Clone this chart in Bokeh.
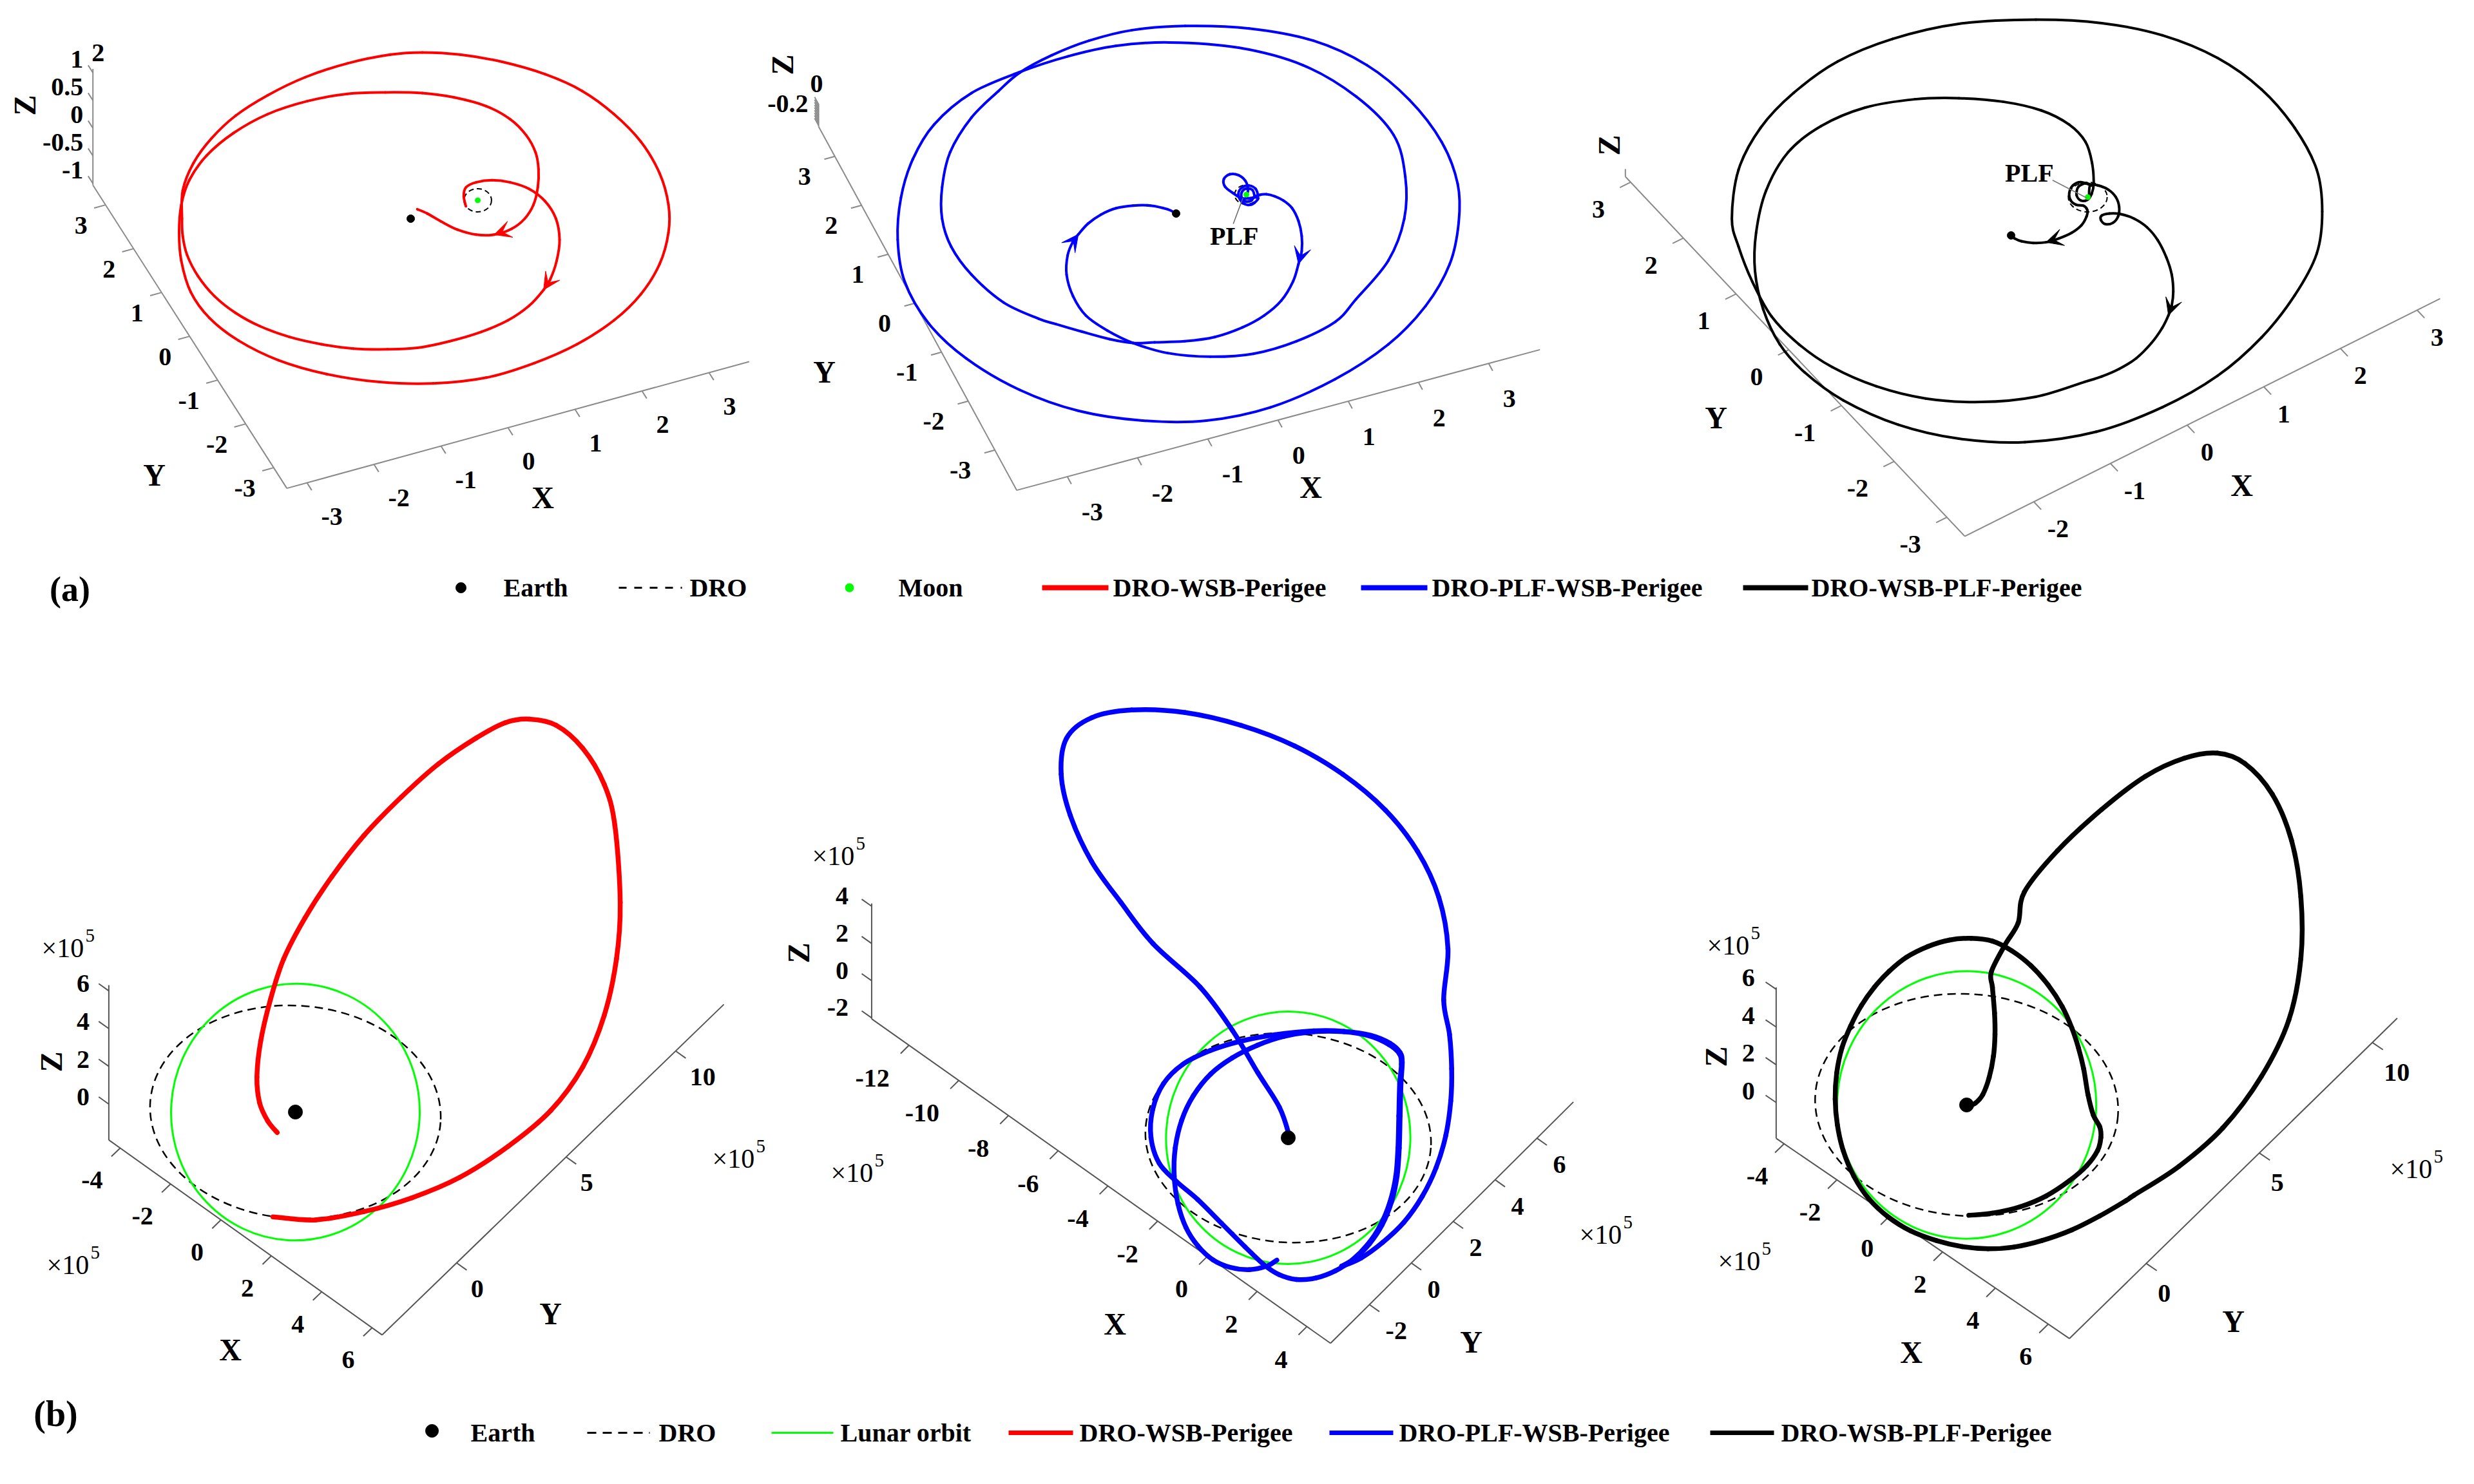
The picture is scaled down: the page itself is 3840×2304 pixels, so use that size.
import numpy as np
from bokeh.plotting import figure
from bokeh.models import Range1d, Arrow, VeeHead
from bokeh.core.properties import value
from bokeh.embed import file_html
from bokeh.resources import INLINE

FONT = "Liberation Serif"

# ======================= DATA =======================
# (a) Earth-Moon rotating frame (nondimensional units); trajectories as projected
#     view-plane coordinates (u right, v up), Earth at origin.
a1_u = [0.76,0.73,0.76,0.90,1.12,1.37,1.63,1.85,2.00,2.05,2.01,1.92,1.83,1.63,1.34,0.97,0.53,0.09,-0.32,-0.79,
        -1.23,-1.67,-2.08,-2.41,-2.70,-2.93,-3.08,-3.14,-3.15,-3.14,-2.99,-2.74,-2.41,-1.97,-1.45,-0.87,-0.28,0.16,0.68,1.26,
        1.85,2.36,2.80,3.17,3.43,3.55,3.55,3.43,3.17,2.80,2.29,1.70,1.04,0.31,-0.43,-1.16,-1.82,-2.37,-2.77,-3.03,
        -3.16,-3.19,-3.16,-3.05,-2.81,-2.44,-1.97,-1.42,-0.87,-0.35,0.16,0.60,1.04,1.37,1.59,1.72,1.76,1.75,1.69,1.57,
        1.39,1.15,0.90,0.64,0.42,0.23,0.09]
a1_v = [0.17,0.31,0.43,0.50,0.53,0.50,0.41,0.24,0.00,-0.29,-0.58,-0.84,-0.98,-1.20,-1.40,-1.56,-1.69,-1.78,-1.80,-1.79,
        -1.73,-1.63,-1.48,-1.30,-1.07,-0.79,-0.50,-0.24,0.00,0.39,0.77,1.11,1.42,1.70,1.95,2.14,2.26,2.29,2.26,2.16,
        1.99,1.76,1.44,1.06,0.62,0.19,-0.19,-0.62,-1.04,-1.40,-1.73,-1.99,-2.19,-2.27,-2.25,-2.14,-1.95,-1.68,-1.37,-1.01,
        -0.58,-0.19,0.19,0.53,0.87,1.18,1.44,1.62,1.72,1.74,1.73,1.67,1.55,1.37,1.15,0.91,0.68,0.43,0.19,0.00,
        -0.14,-0.22,-0.22,-0.15,-0.04,0.07,0.13]
a1_arrows = [12, 81]

a2_plf_u = [1.043,1.015,0.943,0.880,0.872,0.921,1.001,1.043,1.086,1.058,0.972,0.872,0.829,0.872,0.958,1.043,1.086,
            0.886,0.758,0.652,0.635,0.715,0.829,0.921,0.958,0.943,1.001]
a2_plf_v = [0.243,0.314,0.334,0.294,0.214,0.163,0.172,0.229,0.243,0.329,0.372,0.343,0.257,0.157,0.114,0.143,0.214,
            0.200,0.272,0.357,0.457,0.523,0.512,0.437,0.329,0.214,0.200]
a2_dep_u = [1.115,1.201,1.315,1.429,1.544,1.629,1.672,1.672,1.629,1.558,1.401,1.172,0.886,0.515,0.114,-0.286,-0.572,
            -0.886,-1.258,-1.601,-1.830]
a2_dep_v = [0.249,0.257,0.229,0.172,0.071,-0.100,-0.300,-0.500,-0.672,-0.901,-1.158,-1.358,-1.515,-1.644,-1.701,-1.715,
            -1.724,-1.672,-1.572,-1.472,-1.401]
a2_wsb_u = [-2.297,-2.724,-2.994,-3.115,-3.115,-3.009,-2.724,-2.368,-2.084,-1.657,-1.159,-0.590,0.121,0.974,1.828,2.539,
            3.108,3.535,3.748,3.762,3.642,3.321,2.824,2.112,1.259,0.405,-0.448,-1.302,-2.084,-2.795,-3.293,-3.613,
            -3.706,-3.663,-3.506,-3.222,-2.724,-2.084,-1.444,-0.804,-0.092,0.832,1.686,2.397,2.895,3.051,3.037,2.824,
            2.397,2.119]
a2_wsb_v = [-1.185,-0.814,-0.442,-0.070,0.349,0.814,1.278,1.627,1.874,2.106,2.301,2.441,2.497,2.464,2.301,1.976,
            1.511,0.953,0.395,-0.116,-0.674,-1.232,-1.743,-2.208,-2.580,-2.757,-2.757,-2.627,-2.348,-1.929,-1.464,-0.907,
            -0.349,0.209,0.721,1.185,1.604,1.883,2.092,2.232,2.278,2.208,1.976,1.557,1.046,0.488,-0.070,-0.628,
            -1.139,-1.441]
a2_arr_u = [1.601,1.029,0.457,-0.114,-0.572,-0.915,-1.201,-1.372,-1.458,-1.444,-1.372,-1.301,-1.172,-1.001,-0.800,
            -0.572,-0.343,-0.114,0.0]
a2_arr_v = [-1.701,-1.867,-1.907,-1.858,-1.724,-1.558,-1.358,-1.101,-0.815,-0.557,-0.372,-0.277,-0.134,-0.014,0.071,
            0.106,0.106,0.057,0.0]

a3_dep_u = [0.843,0.854,0.935,1.052,1.133,1.168,1.156,1.098,1.017,0.970,0.982,1.063,1.179,1.330,1.469,1.585,1.678,
            1.736,1.753,1.736,1.701,1.632,1.516,1.353,1.168,0.982,0.796]
a3_dep_v = [0.409,0.541,0.541,0.494,0.413,0.309,0.204,0.135,0.123,0.169,0.216,0.237,0.232,0.181,0.088,-0.051,-0.237,
            -0.422,-0.608,-0.759,-0.864,-1.003,-1.165,-1.328,-1.444,-1.525,-1.583]
a3_wsb_u = [0.268,-0.327,-0.923,-1.458,-1.935,-2.292,-2.589,-2.798,-2.946,-3.018,-2.946,-2.708,-2.351,-1.875,-1.280,
            -0.565,0.268,0.982,1.637,2.232,2.708,3.065,3.304,3.363,3.304,3.065,2.708,2.232,1.637,0.923,0.149,-0.565,
            -1.220,-1.815,-2.232,-2.500,-2.679,-2.768,-2.756,-2.649,-2.411,-2.054,-1.577,-1.042,-0.565,-0.089,0.327,
            0.625,0.804,0.875,0.893]
a3_wsb_v = [-1.744,-1.801,-1.763,-1.631,-1.423,-1.178,-0.876,-0.498,-0.121,0.181,0.710,1.163,1.540,1.880,2.125,2.288,
            2.333,2.295,2.163,1.918,1.578,1.163,0.710,0.257,-0.196,-0.649,-1.102,-1.518,-1.857,-2.122,-2.235,-2.197,
            -2.046,-1.782,-1.480,-1.178,-0.800,-0.385,0.030,0.483,0.898,1.182,1.382,1.472,1.484,1.446,1.351,1.200,
            1.012,0.785,0.559]
a3_arr_u = [0.870,0.824,0.754,0.708,0.727,0.808,0.870,0.750,0.669,0.629,0.645,0.703,0.785,0.824,0.815,0.761,0.657,
            0.518,0.378,0.239,0.111,0.035,0.0]
a3_arr_v = [0.448,0.385,0.378,0.436,0.525,0.564,0.541,0.576,0.541,0.460,0.378,0.332,0.320,0.274,0.204,0.111,0.030,
            -0.032,-0.074,-0.081,-0.063,-0.032,0.0]

# DRO around the Moon (projected ellipse width/height, view units) in panels (a)
a1_dro = (0.38, 0.32)
a2_dro = (0.31, 0.26)
a3_dro = (0.42, 0.32)

# (b) Earth-centred frame, units of 1e5 km, projected view-plane coordinates, Earth at origin
b1_u = [-0.672,0.608,2.049,3.490,4.930,6.371,7.652,8.612,9.253,9.621,9.733,9.573,9.253,8.612,7.812,7.011,6.291,
        5.411,4.290,3.170,2.049,1.089,0.288,-0.352,-0.752,-1.040,-1.153,-1.073,-0.832,-0.544]
b1_v = [-3.140,-3.233,-2.986,-2.571,-1.955,-1.031,0.046,1.355,2.894,4.587,6.281,8.590,9.822,10.899,11.592,11.777,
        11.669,11.207,10.437,9.437,8.282,7.050,5.819,4.587,3.356,2.124,1.047,0.277,-0.262,-0.616]

b2_u = [-0.347,-0.661,-1.185,-1.775,-2.299,-2.757,-3.117,-3.360,-3.477,-3.445,-3.248,-2.888,-2.364,-1.709,-0.923,-0.138,
        0.779,1.696,2.482,3.071,3.386,3.451,
        3.399,3.373,3.346,3.281,3.104,2.809,2.417,1.958,1.434,0.845,0.255,
        -0.269,-0.727,-1.316,-2.037,-2.757,-3.412,-3.936,-4.185,
        -4.132,-3.805,-3.215,-2.364,-1.447,-0.399,
        0.779,1.696,2.515,3.104,3.412,3.477,
        3.438,3.412,3.386,3.320,3.150,2.862,2.482,2.024,1.631,
        2.220,2.875,3.530,4.086,4.512,4.807,4.957,4.984,4.918,4.741,
        4.871,4.594,3.942,2.965,1.662,0.195,-1.433,-3.144,-4.773,-5.995,-6.760,-6.923,-6.646,-5.995,-5.099,-4.121,
        -2.690,-1.709,-0.923,-0.268,0.026,0.0]
b2_v = [-3.733,-3.916,-4.021,-3.949,-3.720,-3.294,-2.737,-2.017,-1.166,-0.314,0.537,1.290,1.945,2.436,2.829,3.091,
        3.235,3.235,3.104,2.842,2.567,2.240,
        1.650,0.668,-0.314,-1.166,-1.952,-2.672,-3.261,-3.720,-4.060,-4.276,-4.322,
        -4.178,-3.883,-3.327,-2.606,-1.886,-1.329,-0.773,0.013,
        0.864,1.650,2.240,2.665,2.947,3.143,
        3.261,3.248,3.124,2.882,2.600,2.305,
        1.650,0.668,-0.314,-1.166,-1.952,-2.659,-3.229,-3.687,-3.916,
        -3.667,-3.196,-2.574,-1.788,-0.904,0.079,1.126,2.109,3.157,4.204,
        5.764,7.330,8.740,9.994,11.090,11.952,12.578,12.970,13.048,12.813,12.186,11.090,9.837,8.427,7.174,5.920,
        4.600,3.287,1.978,0.930,0.079,0.0]

b3_u = [0.062,0.741,1.543,2.284,2.963,3.457,3.765,3.858,3.827,3.642,3.488,3.364,3.210,3.025,2.747,2.346,1.852,1.296,
        0.741,0.123,-0.494,-1.111,-1.728,-2.222,-2.654,-3.025,-3.333,-3.580,-3.735,-3.778,-3.716,-3.549,-3.241,-2.809,
        -2.253,-1.605,-0.864,-0.123,0.617,1.358,2.160,3.025,3.827,4.568,4.815,
        6.094,7.360,8.468,9.259,9.607,9.607,9.338,8.784,7.993,7.202,6.252,5.144,3.878,2.612,1.662,
        1.481,1.111,0.710,0.741,0.802,0.815,0.772,0.648,0.463,0.247,0.062,0.0]
b3_v = [-3.173,-3.111,-2.926,-2.617,-2.173,-1.741,-1.309,-0.938,-0.630,-0.290,0.296,1.037,1.654,2.210,2.827,3.444,
        4.000,4.432,4.710,4.790,4.741,4.556,4.247,3.846,3.383,2.858,2.272,1.654,0.914,0.173,-0.568,-1.309,-2.049,
        -2.698,-3.222,-3.623,-3.901,-4.074,-4.136,-4.086,-3.901,-3.593,-3.191,-2.759,-2.593,
        -1.772,-0.665,0.812,2.437,4.209,5.980,7.605,8.934,9.820,10.115,9.968,9.451,8.491,7.310,6.128,
        5.235,4.617,3.827,3.383,2.642,2.025,1.407,0.790,0.296,0.049,-0.012,0.0]

# Lunar orbit and DRO as projected ellipses (width, height, tilt) in 1e5 km
lunar_orbit = (7.45, 7.70, -0.06)
dro_orbit = (8.72, 6.38, -0.07)

# Axis ticks
a1_xt = [-3,-2,-1,0,1,2,3]; a1_yt = [-3,-2,-1,0,1,2,3]; a1_zt = [-1,-0.5,0,0.5,1]
a2_xt = [-3,-2,-1,0,1,2,3]; a2_yt = [-3,-2,-1,0,1,2,3]; a2_zt = [-0.35,-0.3,-0.25,-0.2,-0.15,-0.1,-0.05,0,0.05]
a3_xt = [-2,-1,0,1,2,3]; a3_yt = [-3,-2,-1,0,1,2,3]; a3_zt = []
b1_xt = [-4,-2,0,2,4,6]; b1_yt = [0,5,10]; b1_zt = [0,2,4,6]
b2_xt = [-12,-10,-8,-6,-4,-2,0,2,4]; b2_yt = [-2,0,2,4,6]; b2_zt = [-2,0,2,4]
b3_xt = [-4,-2,0,2,4,6]; b3_yt = [0,5,10]; b3_zt = [0,2,4,6]

legend_a = ["Earth", "DRO", "Moon", "DRO-WSB-Perigee", "DRO-PLF-WSB-Perigee", "DRO-WSB-PLF-Perigee"]
legend_b = ["Earth", "DRO", "Lunar orbit", "DRO-WSB-Perigee", "DRO-PLF-WSB-Perigee", "DRO-WSB-PLF-Perigee"]

# ======================= VIEW GEOMETRY (styling) =======================
TOP = dict(xax=(0, 0), yax=(0, 0), zax=(0, 1), xdir=(0, -1, 0), ydir=(-1, 0, 0), zdir=(0, 1, 0), acol="#8a8a8a")
BOT = dict(xax=(0, 0), yax=(1, 0), zax=(0, 0), xdir=(0, -1, 0), ydir=(1, 0, 0), zdir=(-1, 0, 0), acol="#555555")
PANELS = {
    "a1": dict(TOP, E=(645, 347), S=112.7, ex=(104, -28.5), ey=(-43.5, -68), ez=(0, -86), tl=0.17,
               lims=((-3.3, 3.6), (-3.47, 3.45), (-1.03, 1.07)),
               xlab=(22, 52, "left"), ylab=(-28, 32, "right"),
               titles=dict(X=(850, 780), Y=(247, 745), Z=(46, 171))),
    "a2": dict(TOP, E=(1833, 339), S=116.6, ex=(109, -29.3), ey=(-41.4, -76), ez=(0, -82), tl=0.15,
               lims=((-3.72, 3.73), (-3.82, 3.61), (-0.37, 0.06)),
               xlab=(22, 55, "left"), ylab=(-37, 31, "right"),
               titles=dict(X=(2042, 764), Y=(1287, 585), Z=(1222, 108))),
    "a3": dict(TOP, E=(3129, 373), S=143.6, ex=(119, -59.5), ey=(-81.8, -86.7), ez=(0, -99), tl=0.14,
               lims=((-2.9, 3.3), (-3.34, 3.1), (-0.05, 0.07)),
               xlab=(21, 42, "left"), ylab=(-40, 42, "right"),
               titles=dict(X=(3487, 761), Y=(2671, 656), Z=(2505, 233))),
    "b1": dict(BOT, E=(466, 1734), S=51.8, ex=(39.1, 27.9), ey=(34, -32.9), ez=(0, -29.3), tl=0.4,
               lims=((-4.45, 6.4), (-3.4, 12.2), (-1.9, 6.3)),
               xlab=(-27, 50, "right"), ylab=(22, 40, "left"),
               titles=dict(X=(365, 2103), Y=(862, 2047), Z=(87, 1656)),
               exps=[(116, 1473), (124, 1965), (1157, 1800)]),
    "b2": dict(BOT, E=(2007, 1774), S=50.9, ex=(38.6, 27.3), ey=(32.5, -32.3), ez=(0, -28.9), tl=0.4,
               lims=((-13.5, 4.95), (-3.86, 7.74), (-2.05, 4.15)),
               xlab=(-30, 51, "right"), ylab=(25, 41, "left"),
               titles=dict(X=(1738, 2063), Y=(2291, 2091), Z=(1247, 1487)),
               exps=[(1312, 1330), (1341, 1822), (2503, 1918)]),
    "b3": dict(BOT, E=(3060, 1723), S=54.0, ex=(41, 28), ey=(35.1, -34.3), ez=(0, -29.3), tl=0.4,
               lims=((-4.3, 6.8), (-3.4, 11.1), (-1.9, 6.1)),
               xlab=(-25, 50, "right"), ylab=(18, 46, "left"),
               titles=dict(X=(2974, 2107), Y=(3474, 2059), Z=(2671, 1648)),
               exps=[(2701, 1469), (2718, 1959), (3761, 1816)]),
}

# ======================= FIGURE =======================
p = figure(width=3824, height=2288, x_range=Range1d(8, 3832), y_range=Range1d(8, 2296),
           output_backend="svg", toolbar_location=None, x_axis_location=None, y_axis_location=None,
           min_border=0, background_fill_color="white", border_fill_color="white")
p.grid.visible = False
p.outline_line_color = None

xr, yr = {}, {}
for k, P in PANELS.items():
    Ex, Ey = P["E"]; S = P["S"]
    xr[k] = Range1d((8 - Ex) / S, (3832 - Ex) / S)
    yr[k] = Range1d(-(2296 - Ey) / S, (Ey - 8) / S)
p.extra_x_ranges = xr
p.extra_y_ranges = yr


def to_view(P, X, Y, Z):
    ex, ey, ez, S = P["ex"], P["ey"], P["ez"], P["S"]
    sx = X * ex[0] + Y * ey[0] + Z * ez[0]
    sy = X * ex[1] + Y * ey[1] + Z * ez[1]
    return sx / S, -sy / S


def fmt(t):
    return str(int(round(t))) if abs(t - round(t)) < 1e-9 else f"{t:g}"


def kw(k):
    return dict(x_range_name=k, y_range_name=k)


def ptext(k, xs, ys, texts, size, bold=True, align="center", angle=0.0, color="black"):
    p.text(xs, ys, text=texts, text_font=value(FONT), text_font_size=f"{size}px",
           text_font_style="bold" if bold else "normal", text_align=align, text_baseline="middle",
           angle=angle, text_color=color, **kw(k))


def scr(k, x, y):
    P = PANELS[k]
    return (x - P["E"][0]) / P["S"], -(y - P["E"][1]) / P["S"]


def smooth_path(k, u, v, color, width):
    """Draw a trajectory through its points with Bokeh's cubic Bezier glyph (Catmull-Rom tangents)."""
    u = np.asarray(u, float); v = np.asarray(v, float)
    n = len(u)
    up = np.r_[u[0], u, u[-1]]; vp = np.r_[v[0], v, v[-1]]
    i = np.arange(n - 1)
    x0, y0 = u[:-1], v[:-1]
    x1, y1 = u[1:], v[1:]
    cx0 = x0 + (up[i + 2] - up[i]) / 6.0
    cy0 = y0 + (vp[i + 2] - vp[i]) / 6.0
    cx1 = x1 - (up[i + 3] - up[i + 1]) / 6.0
    cy1 = y1 - (vp[i + 3] - vp[i + 1]) / 6.0
    p.bezier(x0=x0, y0=y0, x1=x1, y1=y1, cx0=cx0, cy0=cy0, cx1=cx1, cy1=cy1,
             line_color=color, line_width=width, line_cap="round", **kw(k))


def draw_axes(k, xt, yt, zt, zlabels):
    P = PANELS[k]; L = P["lims"]; S = P["S"]; tl = P["tl"]
    xs, ys = [], []

    def seg(a, b):
        ua, va = to_view(P, *a); ub, vb = to_view(P, *b)
        xs.append([ua, ub]); ys.append([va, vb])

    def put(points, texts, dx, dy, al):
        uu, vv = [], []
        for pt in points:
            u, v = to_view(P, *pt)
            uu.append(u + dx / S); vv.append(v - dy / S)
        ptext(k, uu, vv, texts, 40, True, al)

    Yf, Zf = L[1][P["xax"][0]], L[2][P["xax"][1]]
    seg((L[0][0], Yf, Zf), (L[0][1], Yf, Zf))
    d = P["xdir"]
    for t in xt:
        seg((t, Yf, Zf), (t + tl * d[0], Yf + tl * d[1], Zf + tl * d[2]))
    dx, dy, al = P["xlab"]
    put([(t, Yf, Zf) for t in xt], [fmt(t) for t in xt], dx, dy, al)

    Xf, Zf2 = L[0][P["yax"][0]], L[2][P["yax"][1]]
    seg((Xf, L[1][0], Zf2), (Xf, L[1][1], Zf2))
    d = P["ydir"]
    for t in yt:
        seg((Xf, t, Zf2), (Xf + tl * d[0], t + tl * d[1], Zf2 + tl * d[2]))
    dx, dy, al = P["ylab"]
    put([(Xf, t, Zf2) for t in yt], [fmt(t) for t in yt], dx, dy, al)

    Xz, Yz = L[0][P["zax"][0]], L[1][P["zax"][1]]
    seg((Xz, Yz, L[2][0]), (Xz, Yz, L[2][1]))
    d = P["zdir"]
    for t in zt:
        seg((Xz, Yz, t), (Xz + tl * d[0], Yz + tl * d[1], t + tl * d[2]))
    for (t, s, dx, dy, al) in zlabels:
        put([(Xz, Yz, t)], [s], dx, dy, al)
    p.multi_line(xs, ys, line_color=P["acol"], line_width=2, **kw(k))

    T = P["titles"]
    for name in ("X", "Y"):
        u, v = scr(k, *T[name]); ptext(k, [u], [v], [name], 48)
    u, v = scr(k, *T["Z"]); ptext(k, [u], [v], ["Z"], 48, angle=np.pi / 2)
    for (x, y) in P.get("exps", []):
        u, v = scr(k, x - 44, y + 6); ptext(k, [u], [v], ["\u00d710"], 42, False, "left")
        u, v = scr(k, x + 24, y - 13); ptext(k, [u], [v], ["5"], 29, False, "left")


def arrowheads(k, u, v, idxs, color):
    for i in idxs:
        p.add_layout(Arrow(end=VeeHead(size=26, fill_color=color, line_color=color, line_width=1),
                           x_start=u[i - 1], y_start=v[i - 1], x_end=u[i], y_end=v[i],
                           line_alpha=0.0, line_width=1, **kw(k)))


# ---------------- panels (a) ----------------
draw_axes("a1", a1_xt, a1_yt, a1_zt,
          [(t, fmt(t), -15, -21, "right") for t in a1_zt] + [(a1_zt[-1], "2", 8, -31, "center")])
draw_axes("a2", a2_xt, a2_yt, a2_zt, [(-0.2, "-0.2", -16, -22, "right"), (0, "0", -3, -36, "center")])
draw_axes("a3", a3_xt, a3_yt, a3_zt, [])

top_sets = [
    ("a1", [a1_u], [a1_v], [a1_arrows], "#ff0000", a1_dro),
    ("a2", [a2_plf_u, a2_dep_u, a2_wsb_u, a2_arr_u], [a2_plf_v, a2_dep_v, a2_wsb_v, a2_arr_v],
     [[], [8], [], [11]], "#0000ff", a2_dro),
    ("a3", [a3_dep_u, a3_wsb_u, a3_arr_u], [a3_dep_v, a3_wsb_v, a3_arr_v], [[20], [], [18]], "#000000", a3_dro),
]
for k, us, vs, arr, col, dro in top_sets:
    P = PANELS[k]
    mu, mv = to_view(P, 1.0, 0.0, 0.0)
    p.ellipse(x=[mu], y=[mv], width=[dro[0]], height=[dro[1]], fill_color=None, line_color="black",
              line_width=2, line_dash="8 5", **kw(k))
    U, V, glob = [], [], []
    for su, sv, ai in zip(us, vs, arr):
        glob += [len(U) + i for i in ai]
        U += list(su); V += list(sv)
    smooth_path(k, U, V, col, 4)
    arrowheads(k, U, V, glob, col)
    p.scatter([0], [0], size=12, color="black", **kw(k))
    p.scatter([mu], [mv], size=8, color="#00ff00", **kw(k))

# PLF annotations
p.line([0.761, 0.889], [-0.137, 0.206], line_color="#666666", line_width=1.5, **kw("a2"))
ptext("a2", [0.774], [-0.298], ["PLF"], 40)
p.line([0.448, 0.820], [0.597, 0.404], line_color="#777777", line_width=1.5, **kw("a3"))
ptext("a3", [0.197], [0.675], ["PLF"], 40)

# ---------------- panels (b) ----------------
draw_axes("b1", b1_xt, b1_yt, b1_zt, [(t, fmt(t), -30, -11, "right") for t in b1_zt])
draw_axes("b2", b2_xt, b2_yt, b2_zt, [(t, fmt(t), -36, -16, "right") for t in b2_zt])
draw_axes("b3", b3_xt, b3_yt, b3_zt, [(t, fmt(t), -33, -18, "right") for t in b3_zt])

for k, U, V, col in [("b1", b1_u, b1_v, "#ff0000"), ("b2", b2_u, b2_v, "#0000ff"), ("b3", b3_u, b3_v, "#000000")]:
    p.ellipse(x=[0], y=[0], width=[dro_orbit[0]], height=[dro_orbit[1]], angle=dro_orbit[2],
              fill_color=None, line_color="black", line_width=2.5, line_dash="13 8", **kw(k))
    p.ellipse(x=[0], y=[0], width=[lunar_orbit[0]], height=[lunar_orbit[1]], angle=lunar_orbit[2],
              fill_color=None, line_color="#00ff00", line_width=3, **kw(k))
    smooth_path(k, U, V, col, 7.5)
    p.scatter([0], [0], size=22, color="black", **kw(k))

# ---------------- legends (page coordinates, y measured from top) ----------------
def Y(y):
    return 2304 - y

ptext("default", [116], [Y(922)], ["(a)"], 54)
ya = 920
p.scatter([723], [Y(ya)], size=16, color="black")
p.line([968, 1066], [Y(ya), Y(ya)], line_color="black", line_width=3, line_dash="12 12")
p.scatter([1326], [Y(ya)], size=13, color="#00ff00")
for x0, x1, c in [(1625, 1728, "#ff0000"), (2120, 2223, "#0000ff"), (2713, 2814, "#000000")]:
    p.line([x0, x1], [Y(ya), Y(ya)], line_color=c, line_width=8)
ptext("default", [789, 1078, 1402, 1735, 2230, 2819], [Y(ya)] * 6, legend_a, 40, True, "left")

ptext("default", [94], [Y(2202)], ["(b)"], 56)
yb = 2232
p.scatter([678], [Y(yb - 3)], size=20, color="black")
p.line([919, 1016], [Y(yb), Y(yb)], line_color="black", line_width=3, line_dash="14 10")
p.line([1205, 1301], [Y(yb), Y(yb)], line_color="#00ff00", line_width=3)
for x0, x1, c in [(1573, 1673, "#ff0000"), (2071, 2170, "#0000ff"), (2662, 2761, "#000000")]:
    p.line([x0, x1], [Y(yb), Y(yb)], line_color=c, line_width=7)
ptext("default", [738, 1030, 1312, 1683, 2179, 2772], [Y(yb)] * 6, legend_b, 40, True, "left")

open("out.html", "w").write(file_html(p, INLINE))
